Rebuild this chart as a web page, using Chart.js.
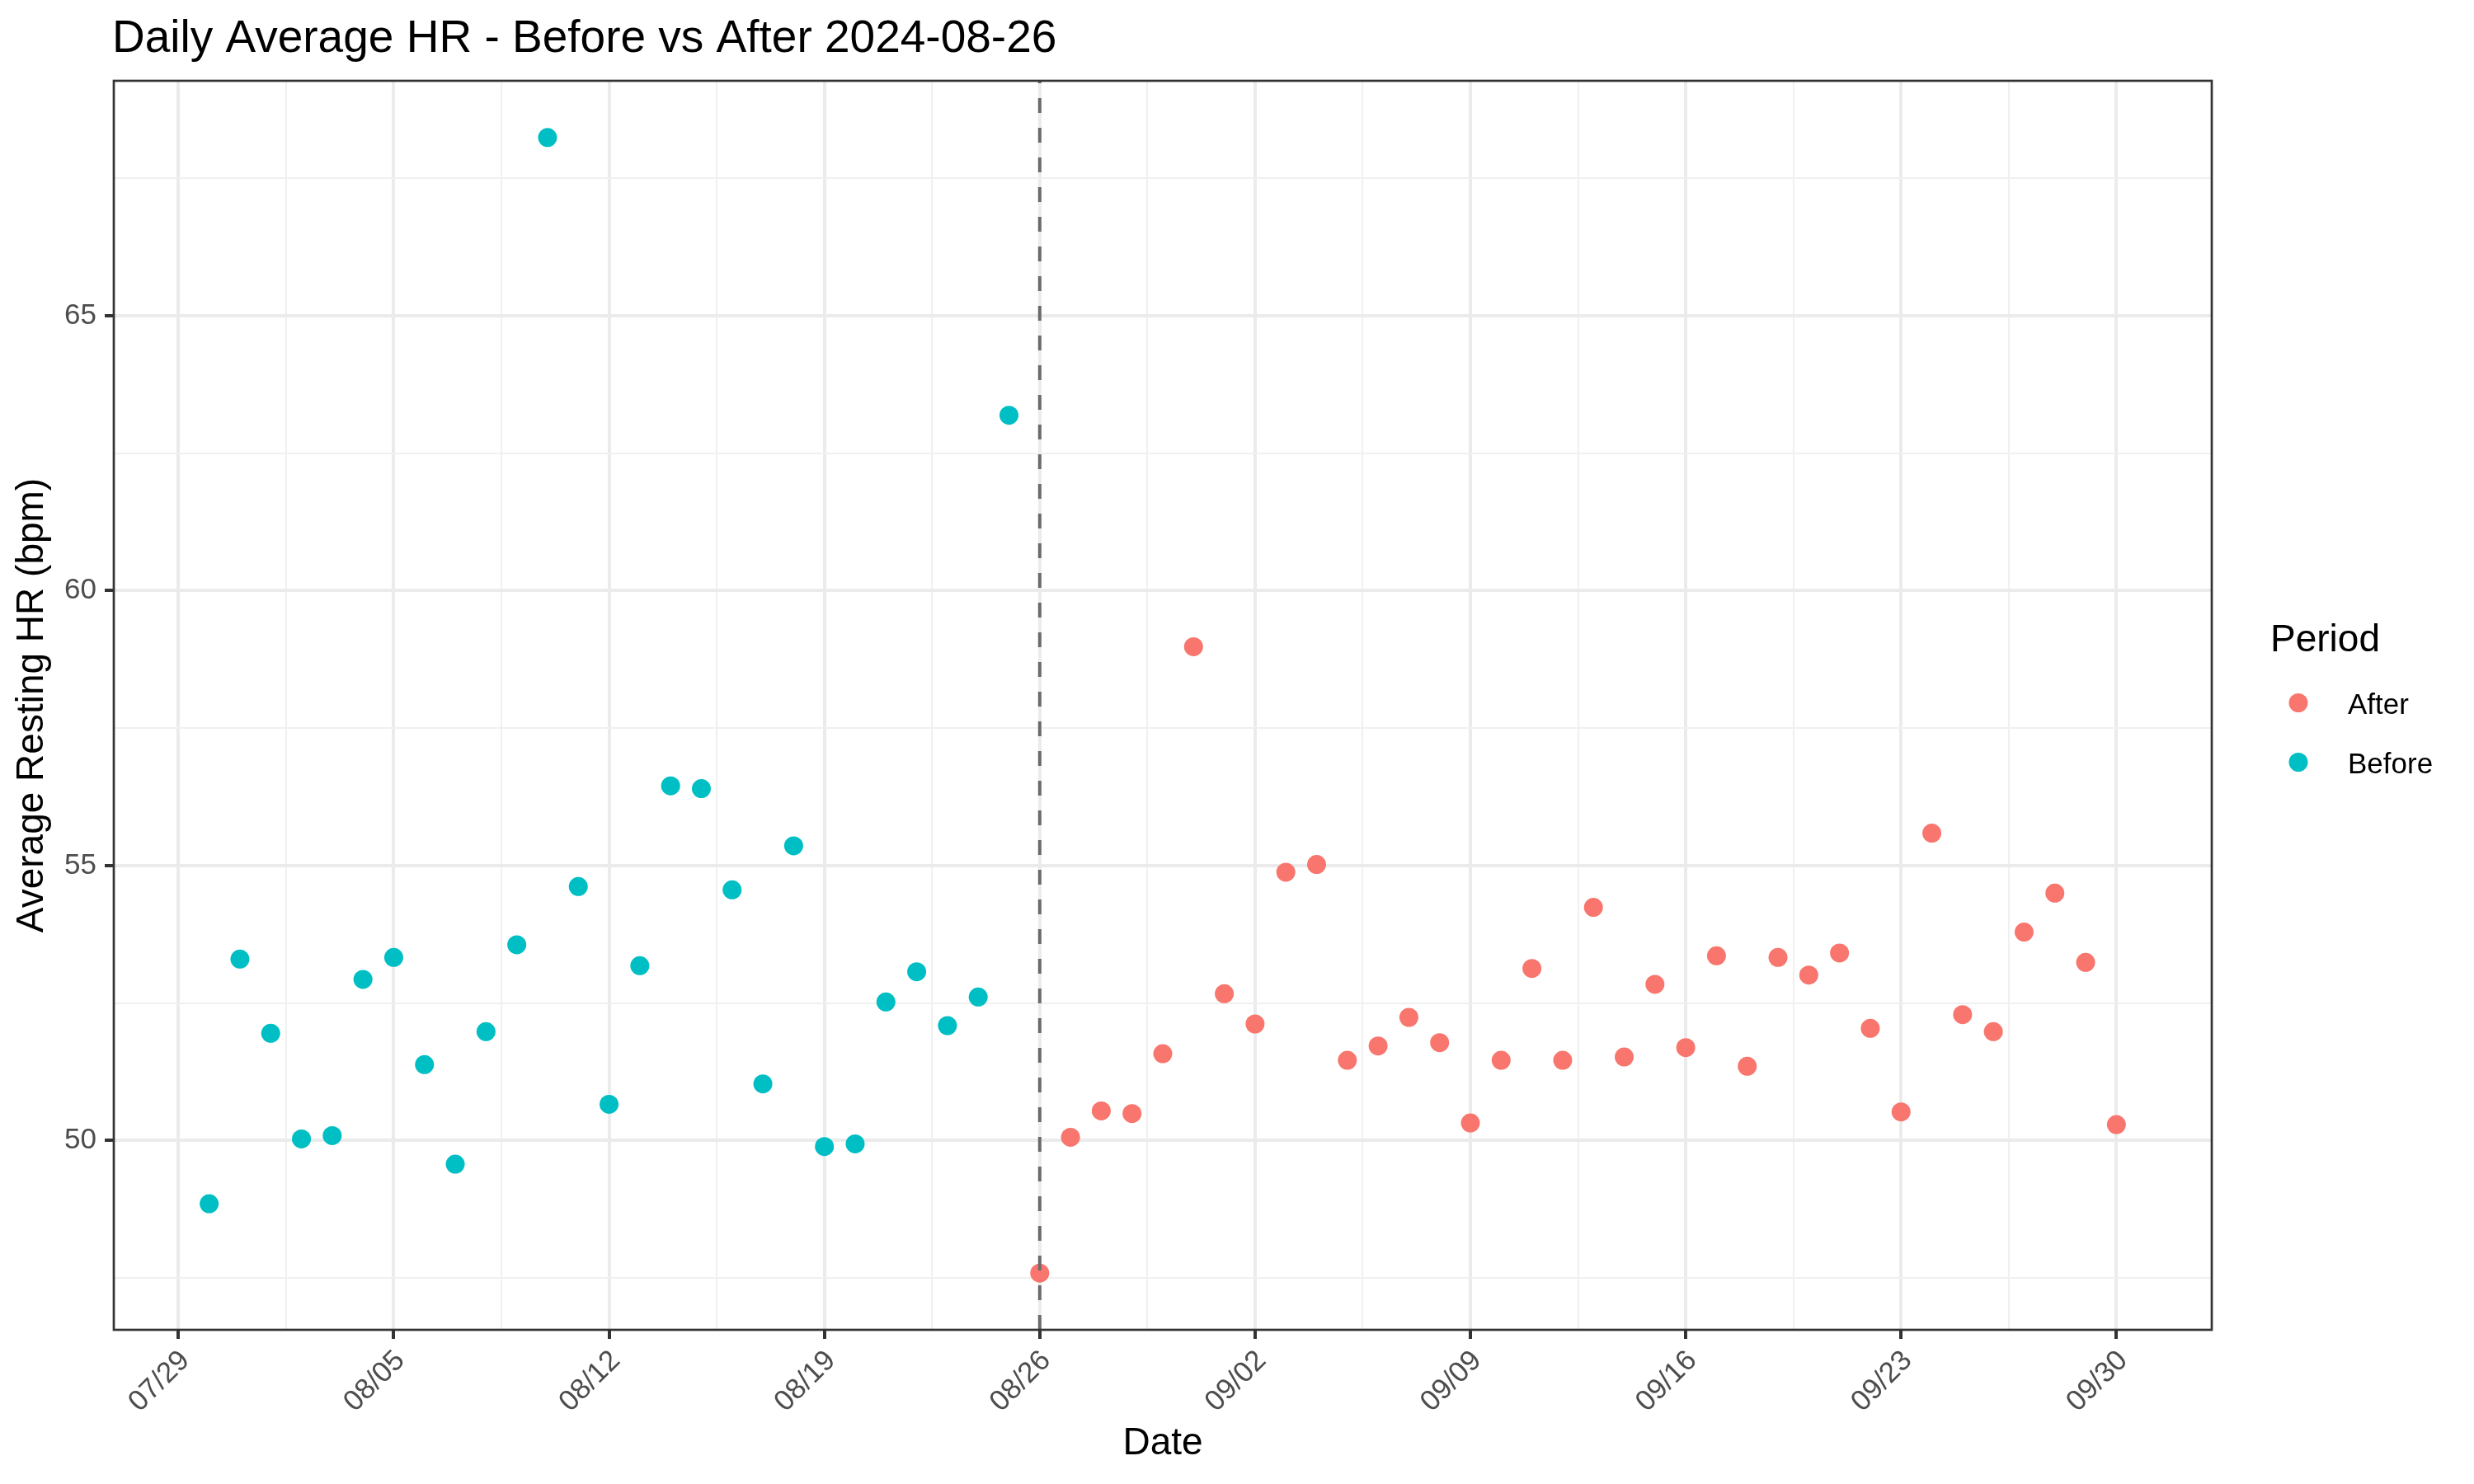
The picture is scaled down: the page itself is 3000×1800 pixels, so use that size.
<!DOCTYPE html>
<html>
<head>
<meta charset="utf-8">
<title>Daily Average HR</title>
<script src="https://cdn.jsdelivr.net/npm/chart.js@4.4.1/dist/chart.umd.min.js"></script>
<style>
    html, body { margin: 0; padding: 0; background: #ffffff; }
    #wrap { width: 3000px; height: 1800px; position: relative; }
</style>
</head>
<body>
<div id="wrap"><canvas id="hrChart"></canvas></div>
<script>
// ---- Data ----
const beforeDates = ['07/30', '07/31', '08/01', '08/02', '08/03', '08/04', '08/05', '08/06', '08/07',
    '08/08', '08/09', '08/10', '08/11', '08/12', '08/13', '08/14', '08/15', '08/16', '08/17',
    '08/18', '08/19', '08/20', '08/21', '08/22', '08/23', '08/24', '08/25'];
const beforeValues = [48.85, 53.30, 51.95, 50.03, 50.09, 52.93, 53.33, 51.38, 49.57,
    51.98, 53.56, 68.24, 54.62, 50.66, 53.18, 56.45, 56.40, 54.56, 51.03,
    55.36, 49.89, 49.94, 52.52, 53.07, 52.09, 52.61, 63.19];

const afterDates = ['08/26', '08/27', '08/28', '08/29', '08/30', '08/31', '09/01', '09/02', '09/03',
    '09/04', '09/05', '09/06', '09/07', '09/08', '09/09', '09/10', '09/11', '09/12', '09/13',
    '09/14', '09/15', '09/16', '09/17', '09/18', '09/19', '09/20', '09/21', '09/22', '09/23',
    '09/24', '09/25', '09/26', '09/27', '09/28', '09/29', '09/30'];
const afterValues = [47.59, 50.06, 50.54, 50.49, 51.58, 58.98, 52.67, 52.12, 54.88,
    55.02, 51.46, 51.72, 52.24, 51.78, 50.32, 51.46, 53.13, 51.46, 54.24,
    51.52, 52.84, 51.69, 53.36, 51.35, 53.33, 53.01, 53.41, 52.04, 50.52,
    55.59, 52.29, 51.98, 53.79, 54.50, 53.24, 50.29];

const cutoffDate = '08/26';
const xTickLabels = ['07/29', '08/05', '08/12', '08/19', '08/26', '09/02', '09/09', '09/16', '09/23', '09/30'];
const yTickLabels = [50, 55, 60, 65];

const chartTitle = 'Daily Average HR - Before vs After 2024-08-26';
const FONT = "'Liberation Sans', Arial, Helvetica, sans-serif";

// dates -> day number counted from 07/29 (2024)
function dayNum(md) {
    const [m, d] = md.split('/').map(Number);
    return Math.round((Date.UTC(2024, m - 1, d) - Date.UTC(2024, 6, 29)) / 86400000);
}

function toPoints(dates, values) {
    return dates.map((d, i) => ({ x: dayNum(d), y: values[i] }));
}

// ggplot style 5% expansion of the data range
const allX = beforeDates.concat(afterDates).map(dayNum);
const allY = beforeValues.concat(afterValues);
const xPad = (Math.max(...allX) - Math.min(...allX)) * 0.05;
const yPad = (Math.max(...allY) - Math.min(...allY)) * 0.05;
const xMin = Math.min(...allX) - xPad, xMax = Math.max(...allX) + xPad;
const yMin = Math.min(...allY) - yPad, yMax = Math.max(...allY) + yPad;

// major + minor breaks
const xMajor = xTickLabels.map(dayNum);
const xTicks = [];
xMajor.forEach((v, i) => {
    xTicks.push(v);
    if (i < xMajor.length - 1) xTicks.push((v + xMajor[i + 1]) / 2);
});
const yTicks = [];
yTickLabels.forEach((v, i) => {
    if (i === 0) yTicks.push(v - 2.5);
    yTicks.push(v, v + 2.5);
});

const isMajorX = v => xMajor.includes(v);
const isMajorY = v => yTickLabels.includes(v);

// title, panel border and legend drawn like ggplot
const ggDecor = {
    id: 'ggDecor',
    afterDraw(chart) {
        const { ctx, chartArea: a } = chart;
        ctx.save();

        ctx.strokeStyle = '#333333';
        ctx.lineWidth = 2.7;
        ctx.strokeRect(a.left, a.top, a.right - a.left, a.bottom - a.top);

        ctx.fillStyle = '#000000';
        ctx.font = `55px ${FONT}`;
        ctx.textAlign = 'left';
        ctx.textBaseline = 'alphabetic';
        ctx.fillText(chartTitle, a.left - 2, 63);

        // legend
        const midY = (a.top + a.bottom) / 2;
        const lx = a.right + 71;
        ctx.font = `46px ${FONT}`;
        ctx.fillText('Period', lx, midY - 66);

        const items = chart.data.datasets.filter(ds => ds.legendLabel);
        ctx.font = `35px ${FONT}`;
        items.forEach((ds, i) => {
            const cy = midY - 3 + i * 72;
            ctx.fillStyle = ds.backgroundColor;
            ctx.beginPath();
            ctx.arc(lx + 34, cy, 11.5, 0, Math.PI * 2);
            ctx.fill();
            ctx.fillStyle = '#000000';
            ctx.fillText(ds.legendLabel, lx + 94, cy + 13);
        });
        ctx.restore();
    }
};

const gridOpts = isMajor => ({
    color: ctx => isMajor(ctx.tick.value) ? '#ebebeb' : '#f0f0f0',
    lineWidth: ctx => isMajor(ctx.tick.value) ? 4 : 2,
    tickColor: ctx => isMajor(ctx.tick.value) ? '#333333' : 'rgba(0,0,0,0)',
    tickWidth: 4,
    tickLength: 11
});

new Chart(document.getElementById('hrChart'), {
    type: 'scatter',
    data: {
        datasets: [
            {
                type: 'line',
                data: [{ x: dayNum(cutoffDate), y: yMin }, { x: dayNum(cutoffDate), y: yMax }],
                borderColor: '#6b6b6b',
                borderWidth: 4,
                borderDash: [18, 18],
                pointRadius: 0,
                fill: false
            },
            {
                legendLabel: 'After',
                data: toPoints(afterDates, afterValues),
                backgroundColor: '#F8766D',
                borderWidth: 0,
                pointRadius: 11.5,
                pointHoverRadius: 11.5
            },
            {
                legendLabel: 'Before',
                data: toPoints(beforeDates, beforeValues),
                backgroundColor: '#00BFC4',
                borderWidth: 0,
                pointRadius: 11.5,
                pointHoverRadius: 11.5
            }
        ]
    },
    options: {
        responsive: true,
        maintainAspectRatio: false,
        devicePixelRatio: 1,
        animation: false,
        events: [],
        layout: { padding: { top: 98, right: 318, bottom: 0, left: 0 } },
        plugins: {
            legend: { display: false },
            tooltip: { enabled: false }
        },
        scales: {
            x: {
                type: 'linear',
                min: xMin,
                max: xMax,
                afterBuildTicks: axis => { axis.ticks = xTicks.map(v => ({ value: v })); },
                afterFit: axis => { axis.height = 187; },
                grid: gridOpts(isMajorX),
                border: { display: false },
                ticks: {
                    autoSkip: false,
                    minRotation: 45,
                    maxRotation: 45,
                    padding: 6,
                    labelOffset: 8,
                    color: '#4d4d4d',
                    font: { family: FONT, size: 35 },
                    callback: v => isMajorX(v) ? xTickLabels[xMajor.indexOf(v)] : ''
                },
                title: {
                    display: true,
                    text: 'Date',
                    color: '#000000',
                    font: { family: FONT, size: 46 },
                    padding: { top: 0, bottom: 21 }
                }
            },
            y: {
                min: yMin,
                max: yMax,
                afterBuildTicks: axis => { axis.ticks = yTicks.map(v => ({ value: v })); },
                afterFit: axis => { axis.width = 138; },
                grid: gridOpts(isMajorY),
                border: { display: false },
                ticks: {
                    padding: 10,
                    color: '#4d4d4d',
                    font: { family: FONT, size: 35 },
                    callback: v => isMajorY(v) ? String(v) : ''
                },
                title: {
                    display: true,
                    text: 'Average Resting HR (bpm)',
                    color: '#000000',
                    font: { family: FONT, size: 46 },
                    padding: { top: 12, bottom: 0 }
                }
            }
        }
    },
    plugins: [ggDecor]
});
</script>
</body>
</html>
